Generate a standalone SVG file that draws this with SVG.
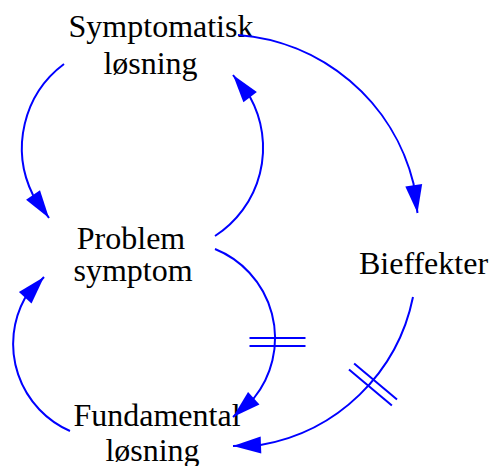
<svg xmlns="http://www.w3.org/2000/svg" width="492" height="466" viewBox="0 0 492 466">
  <style>
    .label { font-family: "Liberation Serif", "Times New Roman", serif; font-size: 32px; fill: #000; text-anchor: middle; }
    .link { fill: none; stroke: #0000FF; stroke-width: 2; }
    .delay line { stroke: #0000FF; stroke-width: 2; }
  </style>
  <defs>
    <marker id="arrow" markerUnits="userSpaceOnUse" markerWidth="30" markerHeight="20" viewBox="-29 -10 30 20" refX="0" refY="0" orient="auto">
      <path d="M0,0 L-28,-8.5 L-28,8.5 Z" fill="#0000FF"/>
    </marker>
    <!-- delay mark: two parallel bars across a link -->
    <g id="delay-mark" class="delay">
      <line x1="-28" y1="-4" x2="28" y2="-4"/>
      <line x1="-28" y1="4" x2="28" y2="4"/>
    </g>
  </defs>

  <g id="symptomatisk-losning">
    <text class="label" x="161" y="37">Symptomatisk</text>
    <text class="label" x="150.5" y="73.5">løsning</text>
  </g>
  <g id="problem-symptom">
    <text class="label" x="131" y="248.5">Problem</text>
    <text class="label" x="133" y="280.5">symptom</text>
  </g>
  <g id="fundamental-losning">
    <text class="label" x="157" y="426">Fundamental</text>
    <text class="label" x="152.5" y="461">løsning</text>
  </g>
  <g id="bieffekter">
    <text class="label" x="423.5" y="274">Bieffekter</text>
  </g>

  <g id="connectors">
    <path class="link" marker-end="url(#arrow)" d="M64,64 A105,105 0 0,0 33,195 L49,218"/>
    <path class="link" marker-end="url(#arrow)" d="M215,236 A105,105 0 0,0 250,97 L233,75"/>
    <path class="link" marker-end="url(#arrow)" d="M238,35 A196,196 0 0,1 413.5,183.5 L417.5,213"/>
    <path class="link" marker-end="url(#arrow)" d="M215,249 A96,96 0 0,1 254,398 L233,417"/>
    <path class="link" marker-end="url(#arrow)" d="M70,431 A95,95 0 0,1 25,298 L44,277"/>
    <path class="link" marker-end="url(#arrow)" d="M413,297 A188,188 0 0,1 260.5,445 L233,446"/>
    <use href="#delay-mark" transform="translate(277.5,342)"/>
    <use href="#delay-mark" transform="translate(373,384.5) rotate(40)"/>
  </g>
</svg>
